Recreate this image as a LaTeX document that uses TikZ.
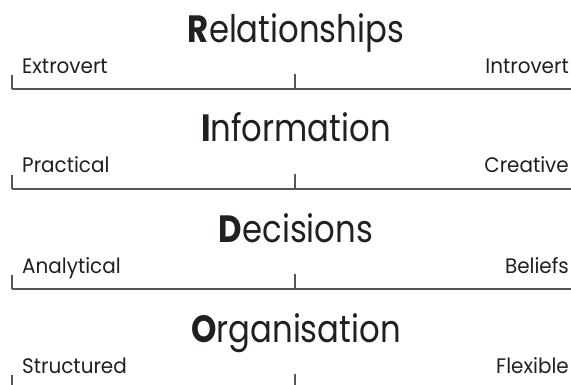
\documentclass[tikz,border=0pt]{standalone}
\usepackage{fontspec}
\setmainfont{Poppins}[FakeStretch=0.85]
\newfontfamily\polefont{Poppins}[FakeStretch=0.95]
\usetikzlibrary{positioning}
\definecolor{inkgrey}{HTML}{231F20}
\definecolor{rulegrey}{HTML}{555555}

\begin{document}
\begin{tikzpicture}[x=1pt,y=-1pt]
\tikzstyle{heading} = [anchor=base,inner sep=0pt,text=inkgrey,font=\fontsize{38}{38}\selectfont]
\tikzstyle{pole} = [inner sep=0pt,text=inkgrey,font=\polefont\fontsize{21}{21}\selectfont]
\tikzstyle{scaleline} = [draw=rulegrey,line width=1.6pt]

\clip (0,0) rectangle (571,385);

% Relationships
\node[heading] (rel) at (296,43) {\textbf{R}elationships};
\node[pole,anchor=base west] (relL) at (22,74) {Extrovert};
\node[pole,anchor=base east] (relR) at (569,74) {Introvert};
\coordinate (relA) at (12,89);
\coordinate (relM) at (295,89);
\coordinate (relB) at (572,89);
\draw[scaleline] (relA) -- (relB);
\draw[scaleline] (relA) -- ++(0,-14);
\draw[scaleline] (relM) -- ++(0,-15);

% Information
\node[heading] (inf) at (296,142) {\textbf{I}nformation};
\node[pole,anchor=base west] (infL) at (22,173) {Practical};
\node[pole,anchor=base east] (infR) at (569,173) {Creative};
\coordinate (infA) at (12,189);
\coordinate (infM) at (295,189);
\coordinate (infB) at (572,189);
\draw[scaleline] (infA) -- (infB);
\draw[scaleline] (infA) -- ++(0,-14);
\draw[scaleline] (infM) -- ++(0,-15);

% Decisions
\node[heading] (dec) at (296,243) {\textbf{D}ecisions};
\node[pole,anchor=base west] (decL) at (22,273) {Analytical};
\node[pole,anchor=base east] (decR) at (569,273) {Beliefs};
\coordinate (decA) at (12,289);
\coordinate (decM) at (295,289);
\coordinate (decB) at (572,289);
\draw[scaleline] (decA) -- (decB);
\draw[scaleline] (decA) -- ++(0,-14);
\draw[scaleline] (decM) -- ++(0,-15);

% Organisation
\node[heading] (org) at (296,342) {\textbf{O}rganisation};
\node[pole,anchor=base west] (orgL) at (22,373) {Structured};
\node[pole,anchor=base east] (orgR) at (569,373) {Flexible};
\coordinate (orgA) at (12,389);
\coordinate (orgM) at (295,389);
\coordinate (orgB) at (572,389);
\draw[scaleline] (orgA) -- (orgB);
\draw[scaleline] (orgA) -- ++(0,-14);
\draw[scaleline] (orgM) -- ++(0,-15);

\end{tikzpicture}
\end{document}
